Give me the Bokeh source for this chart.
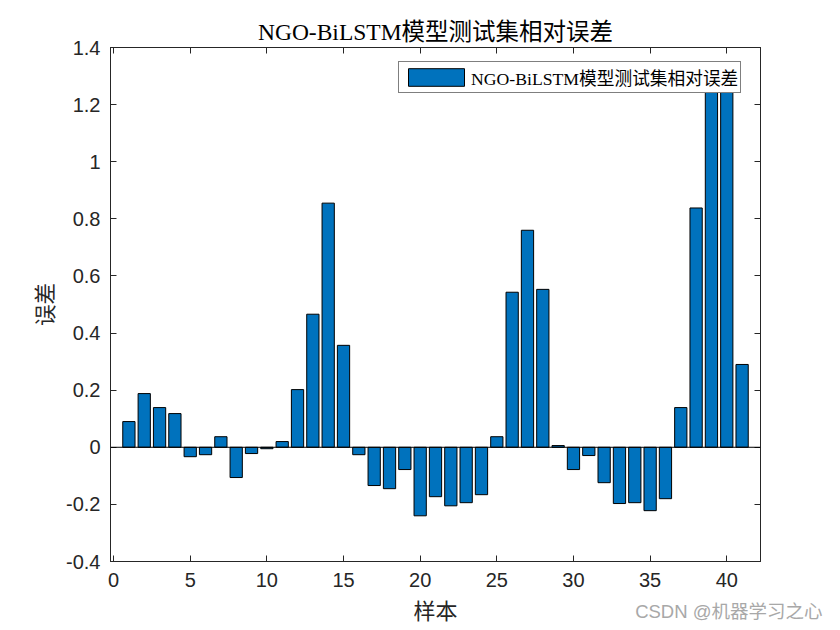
from bokeh.plotting import figure
from bokeh.models import (Span, Title, LinearAxis, FixedTicker, Legend, LegendItem,
                          Range1d, ColumnDataSource, NumeralTickFormatter)
from bokeh.embed import file_html
from bokeh.resources import INLINE

title_text = "NGO-BiLSTM模型测试集相对误差"
legend_text = "NGO-BiLSTM模型测试集相对误差"
x_label = "样本"
y_label = "误差"
watermark = "CSDN @机器学习之心"

samples = list(range(1, 42))
errors = [0.090, 0.188, 0.139, 0.118, -0.033, -0.026, 0.037, -0.106, -0.022, -0.005,
          0.020, 0.202, 0.466, 0.855, 0.357, -0.026, -0.134, -0.145, -0.078, -0.240,
          -0.173, -0.205, -0.194, -0.166, 0.037, 0.543, 0.760, 0.553, 0.006, -0.078,
          -0.029, -0.124, -0.197, -0.194, -0.222, -0.180, 0.139, 0.838, 1.32, 1.29,
          0.290]

x_ticks = [0, 5, 10, 15, 20, 25, 30, 35, 40]
y_ticks = [-0.4, -0.2, 0, 0.2, 0.4, 0.6, 0.8, 1.0, 1.2, 1.4]

SERIF = "Liberation Serif, Noto Sans CJK SC"
SANS = "Liberation Sans, Noto Sans CJK SC"
CJK = "Noto Sans CJK SC"
AX = "#262626"

W, H = 824, 630
src = ColumnDataSource(dict(x=samples, top=errors))

p = figure(width=W, height=H, x_range=Range1d(-0.2, 42.2), y_range=Range1d(-0.4, 1.4),
           output_backend="svg", toolbar_location=None,
           min_border_left=110, min_border_right=W - 760, min_border_top=47,
           min_border_bottom=H - 561, title=title_text)
p.background_fill_color = "white"
p.border_fill_color = "white"
p.outline_line_color = AX
p.outline_line_width = 1
p.grid.visible = False

p.title.align = "center"
p.title.text_font = SERIF
p.title.text_font_size = "23.5px"
p.title.text_font_style = "normal"
p.title.text_color = "black"
p.title.standoff = 6

r = p.vbar(x="x", top="top", width=0.8, source=src, fill_color="#0072BD",
           line_color="black", line_width=1)

p.add_layout(Span(location=0, dimension="width", line_color="black", line_width=1))


def style_axis(ax, show_labels=True):
    ax.major_tick_in = 6
    ax.major_tick_out = 0
    ax.minor_tick_line_color = None
    ax.axis_line_color = AX
    ax.major_tick_line_color = AX
    ax.major_label_text_font = SANS
    if show_labels:
        ax.major_label_text_color = AX
        ax.major_label_text_font_size = "20px"
        ax.major_label_standoff = 10
    else:
        ax.major_label_text_color = None
        ax.major_label_text_font_size = "0px"
        ax.major_label_standoff = 0


xa = p.xaxis[0]
xa.ticker = FixedTicker(ticks=x_ticks)
style_axis(xa)
xa.major_label_standoff = 11
xa.axis_label = x_label
xa.axis_label_text_font = CJK
xa.axis_label_text_font_size = "22px"
xa.axis_label_text_font_style = "normal"
xa.axis_label_text_color = AX
xa.axis_label_standoff = 3

ya = p.yaxis[0]
ya.ticker = FixedTicker(ticks=y_ticks)
ya.formatter = NumeralTickFormatter(format="0.[0]")
style_axis(ya)
ya.axis_label = y_label
ya.axis_label_text_font = CJK
ya.axis_label_text_font_size = "21.5px"
ya.axis_label_text_font_style = "normal"
ya.axis_label_text_color = AX
ya.axis_label_standoff = 4

top_ax = LinearAxis(ticker=FixedTicker(ticks=x_ticks))
style_axis(top_ax, False)
p.add_layout(top_ax, "above")
right_ax = LinearAxis(ticker=FixedTicker(ticks=y_ticks))
style_axis(right_ax, False)
p.add_layout(right_ax, "right")

legend = Legend(items=[LegendItem(label=legend_text, renderers=[r])], location=(288, 468))
legend.border_line_color = "black"
legend.border_line_width = 1
legend.background_fill_color = "white"
legend.background_fill_alpha = 1
legend.label_text_font = SERIF
legend.label_text_font_size = "17.7px"
legend.label_text_color = "black"
legend.glyph_width = 70
legend.glyph_height = 22
legend.label_height = 18
legend.padding = 2
legend.margin = 0
legend.label_standoff = 0
legend.spacing = 0
p.add_layout(legend)

wm = Title(text=watermark, align="right", vertical_align="top", offset=-62, standoff=-54,
           text_font=SANS, text_font_size="18.5px", text_font_style="normal",
           text_color="#a8a8a8")
p.add_layout(wm, "below")

open("out.html", "w").write(file_html(p, INLINE))
